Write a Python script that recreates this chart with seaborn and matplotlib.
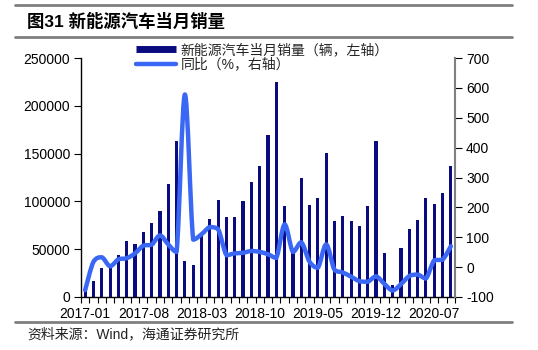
import matplotlib
matplotlib.use("Agg")
import matplotlib.pyplot as plt
import seaborn as sns
import numpy as np
import pandas as pd
from matplotlib.path import Path
from matplotlib.patches import PathPatch
from matplotlib.lines import Line2D

# ---------------- data ----------------
months = [
    "2017-01", "2017-02", "2017-03", "2017-04", "2017-05", "2017-06",
    "2017-07", "2017-08", "2017-09", "2017-10", "2017-11", "2017-12",
    "2018-01", "2018-02", "2018-03", "2018-04", "2018-05", "2018-06",
    "2018-07", "2018-08", "2018-09", "2018-10", "2018-11", "2018-12",
    "2019-01", "2019-02", "2019-03", "2019-04", "2019-05", "2019-06",
    "2019-07", "2019-08", "2019-09", "2019-10", "2019-11", "2019-12",
    "2020-01", "2020-02", "2020-03", "2020-04", "2020-05", "2020-06",
    "2020-07", "2020-08", "2020-09",
]
sales = [
    6000, 16700, 30000, 32000, 44000, 58600, 55800, 68000, 77400, 90300, 118200, 163500,
    38000, 33500, 64000, 81600, 101500, 83700, 83700, 100500, 120500, 137000, 169000, 224600,
    95000, 50000, 125000, 96000, 103500, 151000, 79000, 84700, 79000, 74300, 95200, 163000,
    46000, 12500, 51600, 71100, 80500, 103200, 96900, 108800, 137000,
]
yoy = [
    -77, 18, 33, 3, 26, 30, 46, 72, 75, 106, 76, 51,
    578, 92, 110, 134, 127, 40, 46, 48, 54, 51, 43, 31,
    143, 51, 83, 18, -2, 76, -9, -18, -32, -47, -49, -31,
    -56, -78, -57, -30, -25, -38, 23, 25, 70,
]
tick_labels = ["2017-01", "2017-08", "2018-03", "2018-10", "2019-05", "2019-12", "2020-07"]
legend_labels = ["新能源汽车当月销量（辆，左轴）", "同比（%，右轴）"]
title = "图31 新能源汽车当月销量"
source = "资料来源：Wind，海通证券研究所"

BAR = "#0B0B80"
LINE = "#3A68F5"

sns.set_theme(style="ticks")
plt.rcParams["font.family"] = ["Liberation Sans", "Noto Sans CJK SC", "DejaVu Sans"]
plt.rcParams["axes.unicode_minus"] = False

W, H = 538, 350
fig = plt.figure(figsize=(W / 100, H / 100), dpi=100)
L, R, T, B = 81, 455, 58, 297
ax = fig.add_axes([L / W, 1 - B / H, (R - L) / W, (B - T) / H])

df = pd.DataFrame({"month": months, "sales": sales, "yoy": yoy})
sns.barplot(data=df, x="month", y="sales", ax=ax, color=BAR, width=0.38,
            saturation=1, linewidth=0)
ax.set_ylim(0, 250000)
ax.set_yticks(np.arange(0, 250001, 50000))
ax.set_xlim(-0.5, len(months) - 0.5)
ax.set_xlabel("")
ax.set_ylabel("")

# x ticks: labels every 7 months, tick marks at category boundaries
label_pos = [months.index(m) for m in tick_labels]
ax.set_xticks(label_pos)
ax.set_xticklabels(tick_labels)
ax.set_xticks(np.arange(-0.5, len(months), 1), minor=True)
ax.tick_params(axis="x", which="major", length=0, pad=7, labelsize=10, colors="black")
ax.tick_params(axis="x", which="minor", length=4, width=0.8, direction="out", color="black")
ax.tick_params(axis="y", length=5, width=0.8, direction="out", labelsize=10, pad=3,
               colors="black")
for s in ["top", "right"]:
    ax.spines[s].set_visible(False)
for s in ["left", "bottom"]:
    ax.spines[s].set_color("black")
    ax.spines[s].set_linewidth(1)

# right axis line (smoothed)
ax2 = ax.twinx()
sns.lineplot(x=np.arange(len(months)), y=df["yoy"], ax=ax2, color=LINE)
ln = ax2.lines[0]
xs, ys = ln.get_xdata(), ln.get_ydata()
ln.remove()
n = len(xs)
verts = [(xs[0], ys[0])]
codes = [Path.MOVETO]
for i in range(n - 1):
    a = max(i - 1, 0)
    d = min(i + 2, n - 1)
    lo, hi = min(ys[i], ys[i + 1]), max(ys[i], ys[i + 1])
    c1y = ys[i] + (ys[i + 1] - ys[a]) / 6
    c2y = ys[i + 1] - (ys[d] - ys[i]) / 6
    c1 = (xs[i] + (xs[i + 1] - xs[a]) / 6, min(max(c1y, lo), hi))
    c2 = (xs[i + 1] - (xs[d] - xs[i]) / 6, min(max(c2y, lo), hi))
    verts += [c1, c2, (xs[i + 1], ys[i + 1])]
    codes += [Path.CURVE4] * 3
ax2.add_patch(PathPatch(Path(verts, codes), fill=False, edgecolor=LINE, lw=3.2,
                        capstyle="round", joinstyle="round", zorder=3))
ax2.set_ylim(-100, 700)
ax2.set_yticks(np.arange(-100, 701, 100))
ax2.set_ylabel("")
ax2.tick_params(axis="y", length=5, width=0.8, direction="out", labelsize=10, pad=3,
                colors="black")
for s in ["top", "left", "bottom"]:
    ax2.spines[s].set_visible(False)
ax2.spines["right"].set_color("#808080")
ax2.spines["right"].set_linewidth(1.5)
ax2.set_xlim(-0.5, len(months) - 0.5)
if ax2.get_legend() is not None:
    ax2.get_legend().remove()

# legend
handles = [
    Line2D([0], [0], color=BAR, lw=5, solid_capstyle="butt"),
    Line2D([0], [0], color=LINE, lw=3.2, solid_capstyle="round"),
]
fig.legend(handles, legend_labels, loc="upper left",
           bbox_to_anchor=(136 / W, 1 - 43 / H), frameon=False, fontsize=10,
           handlelength=2.9, handletextpad=0.3, labelspacing=0.05,
           borderpad=0, borderaxespad=0)

# title, rules, source
fig.text(27 / W, 1 - 21 / H, title, fontsize=12.5, fontweight="bold", va="center",
         ha="left", color="black")
for yy in (5, 37, 322):
    fig.add_artist(Line2D([15 / W, 512 / W], [1 - yy / H] * 2, color="#808080",
                          lw=2, transform=fig.transFigure))
fig.text(27 / W, 1 - 334 / H, source, fontsize=10, va="center", ha="left",
         color="#222222")

fig.savefig("out.png", dpi=100)
